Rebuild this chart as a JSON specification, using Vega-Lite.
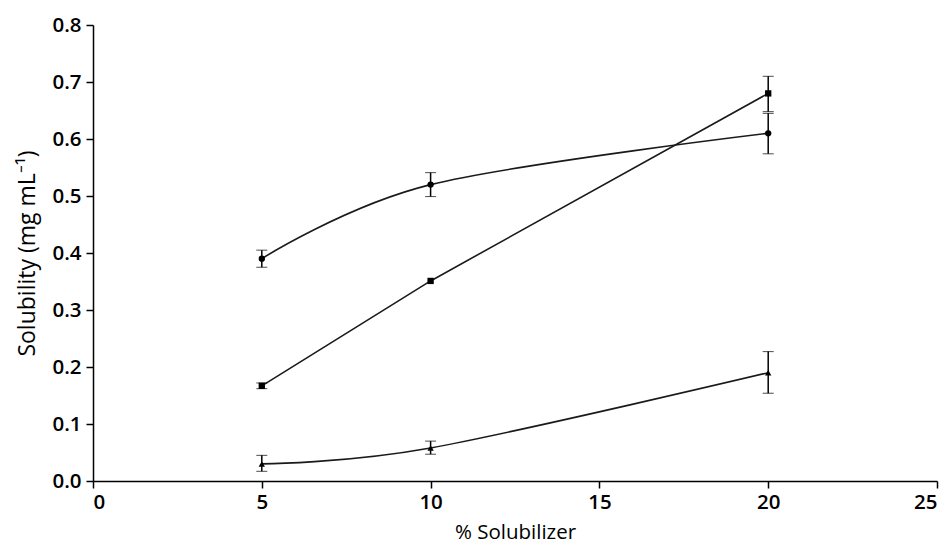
{
  "$schema": "https://vega.github.io/schema/vega-lite/v6.json",
  "width": 844,
  "height": 456,
  "autosize": "none",
  "padding": {"left": 93, "top": 25, "right": 15, "bottom": 63},
  "background": "white",
  "config": {
    "view": {"stroke": null},
    "font": "Open Sans",
    "axis": {
      "grid": false,
      "domainColor": "#000",
      "domainWidth": 1.5,
      "tickColor": "#000",
      "tickWidth": 1.5,
      "tickSize": 7,
      "labelColor": "#000",
      "labelFont": "Open Sans",
      "labelFontSize": 20.5,
      "labelFontWeight": 600,
      "titleColor": "#000",
      "titleFont": "Open Sans",
      "titleFontSize": 20.5,
      "titleFontWeight": "normal"
    }
  },
  "data": {
    "values": [
      {"series": "A", "x": 5, "y": 0.39, "lo": 0.375, "hi": 0.405},
      {"series": "A", "x": 10, "y": 0.52, "lo": 0.499, "hi": 0.541},
      {"series": "A", "x": 20, "y": 0.61, "lo": 0.574, "hi": 0.645},
      {"series": "B", "x": 5, "y": 0.167, "lo": 0.162, "hi": 0.172},
      {"series": "B", "x": 10, "y": 0.351, "lo": null, "hi": null},
      {"series": "B", "x": 20, "y": 0.68, "lo": 0.648, "hi": 0.71},
      {"series": "C", "x": 5, "y": 0.03, "lo": 0.017, "hi": 0.045},
      {"series": "C", "x": 10, "y": 0.058, "lo": 0.047, "hi": 0.07},
      {"series": "C", "x": 20, "y": 0.19, "lo": 0.154, "hi": 0.227}
    ]
  },
  "encoding": {
    "x": {
      "field": "x",
      "type": "quantitative",
      "scale": {"domain": [0, 25], "nice": false},
      "axis": {"values": [0, 5, 10, 15, 20, 25], "title": "% Solubilizer", "labelPadding": 4, "titlePadding": 10}
    },
    "y": {
      "field": "y",
      "type": "quantitative",
      "scale": {"domain": [0, 0.8], "nice": false},
      "axis": {"values": [0, 0.1, 0.2, 0.3, 0.4, 0.5, 0.6, 0.7, 0.8], "format": ".1f", "title": "Solubility (mg mL⁻¹)", "labelPadding": 5, "titlePadding": 12, "titleFontSize": 23}
    }
  },
  "layer": [
    {
      "transform": [{"filter": "datum.series !== 'B'"}],
      "mark": {"type": "line", "interpolate": "cardinal", "tension": 0, "color": "#1a1a1a", "strokeWidth": 1.6},
      "encoding": {"detail": {"field": "series"}}
    },
    {
      "transform": [{"filter": "datum.series === 'B'"}],
      "mark": {"type": "line", "interpolate": "linear", "color": "#1a1a1a", "strokeWidth": 1.6},
      "encoding": {"detail": {"field": "series"}}
    },
    {
      "transform": [{"filter": "datum.lo != null"}],
      "mark": {"type": "errorbar", "ticks": {"size": 11, "color": "#000", "strokeWidth": 1.5}, "rule": {"color": "#000", "strokeWidth": 1.5}},
      "encoding": {
        "y": {"field": "lo", "type": "quantitative"},
        "y2": {"field": "hi"}
      }
    },
    {
      "mark": {"type": "point", "filled": true, "color": "#000", "opacity": 1, "size": 40},
      "encoding": {
        "shape": {
          "field": "series",
          "type": "nominal",
          "scale": {"domain": ["A", "B", "C"], "range": ["circle", "square", "triangle-up"]},
          "legend": null
        }
      }
    }
  ]
}
